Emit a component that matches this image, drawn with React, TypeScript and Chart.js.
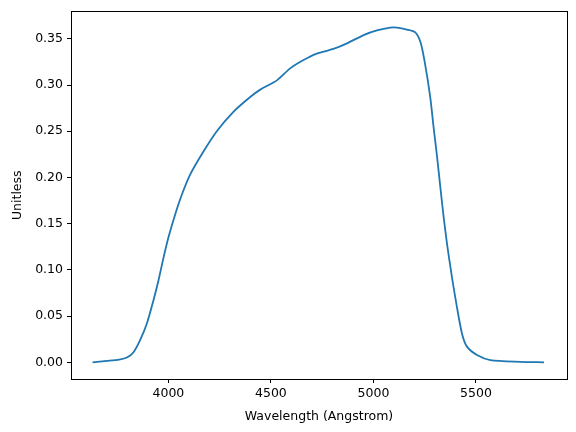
import React, { useEffect, useRef } from "react";
import { Chart, registerables } from "chart.js";

Chart.register(...registerables);

const wavelength = [
  3630, 3700, 3760, 3800, 3830, 3862, 3895, 3927, 3951, 3976, 4000, 4033, 4065,
  4106, 4171, 4236, 4317, 4399, 4448, 4529, 4594, 4659, 4724, 4805, 4871, 4952,
  5017, 5082, 5115, 5163, 5204, 5230, 5250, 5277, 5293, 5310, 5326, 5342, 5359,
  5383, 5407, 5432, 5456, 5505, 5570, 5716, 5832,
];
const transmission = [
  0.0, 0.0015, 0.003, 0.0055, 0.011, 0.024, 0.042, 0.067, 0.088, 0.113, 0.135,
  0.16, 0.181, 0.203, 0.228, 0.25, 0.271, 0.287, 0.295, 0.305, 0.318, 0.327,
  0.334, 0.339, 0.345, 0.354, 0.359, 0.362, 0.362, 0.36, 0.357, 0.346, 0.325,
  0.287, 0.255, 0.223, 0.19, 0.158, 0.128, 0.092, 0.06, 0.031, 0.017, 0.008,
  0.0025, 0.0006, 0.0,
];
const xTicks = [4000, 4500, 5000, 5500];
const yTicks = [0, 0.05, 0.1, 0.15, 0.2, 0.25, 0.3, 0.35];
const xLabel = "Wavelength (Angstrom)";
const yLabel = "Unitless";

const FONT = "'DejaVu Sans', sans-serif";
const X_MIN = 3525;
const X_MAX = 5944;
const Y_MIN = -0.018;
const Y_MAX = 0.3795;

const frameAxis = (position: string, min: number, max: number, horizontal: boolean) => ({
  type: "linear",
  position,
  min,
  max,
  display: true,
  ticks: { display: false },
  grid: { display: true, drawOnChartArea: false, drawTicks: false },
  border: { display: true, color: "#000", width: 1 },
  afterFit: (s: any) => {
    if (horizontal) s.height = 0;
    else s.width = 0;
  },
});

export default function App() {
  const ref = useRef<HTMLCanvasElement>(null);
  useEffect(() => {
    document.body.style.margin = "0";
    const points = wavelength.map((x, i) => ({ x, y: transmission[i] }));
    const chart = new Chart(ref.current as HTMLCanvasElement, {
      type: "line",
      data: {
        datasets: [
          {
            data: points,
            borderColor: "#1f77b4",
            borderWidth: 1.8,
            pointRadius: 0,
            tension: 0.25,
            fill: false,
            xAxisID: "x",
            yAxisID: "y",
          },
        ],
      },
      options: {
        animation: false,
        responsive: false,
        layout: { padding: { top: 9, right: 9, left: 0, bottom: 0 } },
        plugins: { legend: { display: false }, tooltip: { enabled: false } },
        scales: {
          x: {
            type: "linear",
            position: "bottom",
            min: X_MIN,
            max: X_MAX,
            afterBuildTicks: (s: any) => {
              s.ticks = xTicks.map((v) => ({ value: v }));
            },
            afterFit: (s: any) => {
              s.height = 53;
            },
            ticks: {
              color: "#000",
              font: { family: FONT, size: 12.5 },
              padding: 3,
              maxRotation: 0,
              callback: (v: any) => String(v),
            },
            grid: {
              drawOnChartArea: false,
              drawTicks: true,
              tickLength: 4,
              color: "#000",
            },
            border: { display: true, color: "#000", width: 1 },
            title: {
              display: true,
              text: xLabel,
              color: "#000",
              font: { family: FONT, size: 12.5 },
              padding: { top: 0, bottom: 8 },
            },
          },
          y: {
            type: "linear",
            position: "left",
            min: Y_MIN,
            max: Y_MAX,
            afterBuildTicks: (s: any) => {
              s.ticks = yTicks.map((v) => ({ value: v }));
            },
            afterFit: (s: any) => {
              s.width = 71;
            },
            ticks: {
              color: "#000",
              font: { family: FONT, size: 12.5 },
              padding: 4,
              callback: (v: any) => Number(v).toFixed(2),
            },
            grid: {
              drawOnChartArea: false,
              drawTicks: true,
              tickLength: 4,
              color: "#000",
            },
            border: { display: true, color: "#000", width: 1 },
            title: {
              display: true,
              text: yLabel,
              color: "#000",
              font: { family: FONT, size: 12.5 },
              padding: { top: 10, bottom: 0 },
            },
          },
          xTop: frameAxis("top", X_MIN, X_MAX, true),
          yRight: frameAxis("right", Y_MIN, Y_MAX, false),
        },
      },
    } as any);
    return () => chart.destroy();
  }, []);
  return (
    <div style={{ width: 576, height: 432, background: "#fff" }}>
      <canvas ref={ref} width={576} height={432} />
    </div>
  );
}
